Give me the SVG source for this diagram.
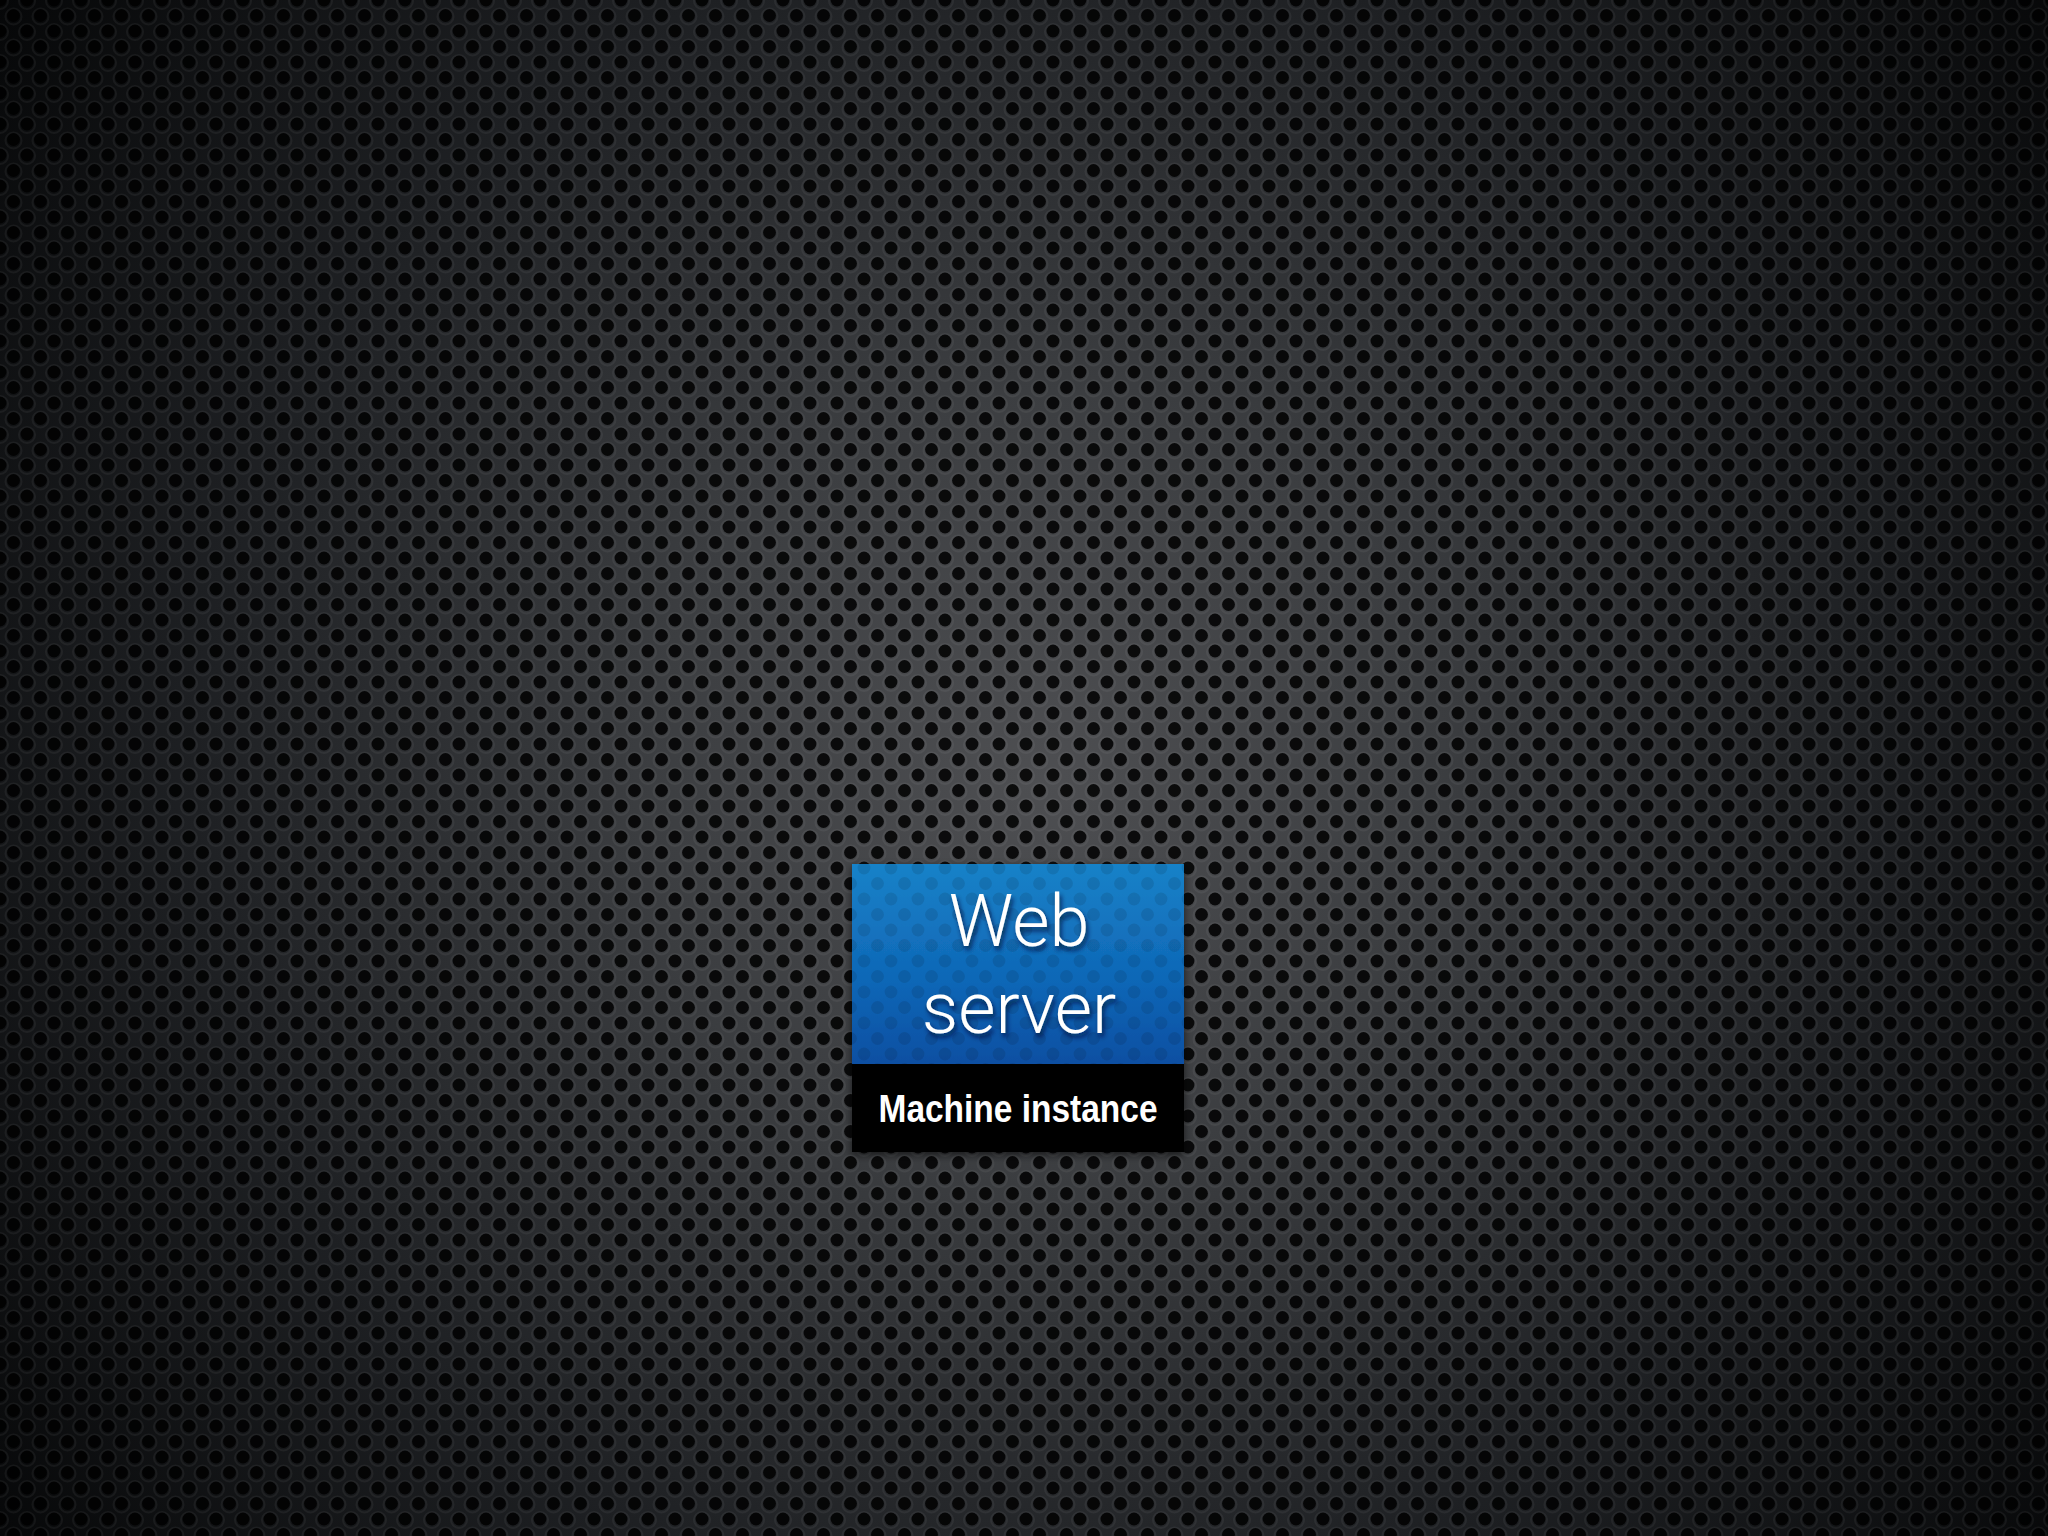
<svg xmlns="http://www.w3.org/2000/svg" width="2048" height="1536" viewBox="0 0 2048 1536">
  <defs>
    <radialGradient id="bgGrad" gradientUnits="userSpaceOnUse" cx="1040" cy="780" r="1300">
      <stop offset="0" stop-color="#4e4f52"/>
      <stop offset="0.3" stop-color="#3c3e41"/>
      <stop offset="0.65" stop-color="#1e2023"/>
      <stop offset="1" stop-color="#060708"/>
    </radialGradient>
    <filter id="soft" x="0" y="0" width="100%" height="100%">
      <feGaussianBlur stdDeviation="0.8"/>
    </filter>
    <pattern id="holes" patternUnits="userSpaceOnUse" x="0" y="0" width="27" height="31">
      <g fill="#000">
        <circle cx="0" cy="0" r="6.4"/>
        <circle cx="27" cy="0" r="6.4"/>
        <circle cx="0" cy="31" r="6.4"/>
        <circle cx="27" cy="31" r="6.4"/>
        <circle cx="13.5" cy="15.5" r="6.4"/>
      </g>
    </pattern>
    <pattern id="rims" patternUnits="userSpaceOnUse" x="0" y="0" width="27" height="31">
      <g fill="none" stroke="#ffffff" stroke-width="2">
        <circle cx="0" cy="1" r="8"/>
        <circle cx="27" cy="1" r="8"/>
        <circle cx="0" cy="32" r="8"/>
        <circle cx="27" cy="32" r="8"/>
        <circle cx="13.5" cy="16.5" r="8"/>
      </g>
    </pattern>
    <linearGradient id="blueGrad" x1="0" y1="0" x2="0" y2="1">
      <stop offset="0" stop-color="#1782c8"/>
      <stop offset="0.6" stop-color="#0f66b6"/>
      <stop offset="1" stop-color="#0a4fa2"/>
    </linearGradient>
    <filter id="textShadow" x="-20%" y="-20%" width="140%" height="150%">
      <feDropShadow dx="2" dy="4" stdDeviation="2.5" flood-color="#001030" flood-opacity="0.75"/>
    </filter>
    <filter id="boxShadow" x="-10%" y="-10%" width="120%" height="120%">
      <feDropShadow dx="0" dy="3" stdDeviation="4" flood-color="#000" flood-opacity="0.6"/>
    </filter>
    <style>
      .title { font-family: Roboto, "Liberation Sans", sans-serif; font-weight: 300; font-size: 72px; fill: #ffffff; text-anchor: middle; }
      .label { font-family: "Liberation Sans Narrow", "Liberation Sans", sans-serif; font-weight: bold; font-size: 39px; fill: #ffffff; text-anchor: middle; }
    </style>
  </defs>

  <g id="background">
    <rect x="0" y="0" width="2048" height="1536" fill="url(#bgGrad)"/>
    <rect x="0" y="0" width="2048" height="1536" fill="url(#rims)" opacity="0.05"/>
    <rect x="0" y="0" width="2048" height="1536" fill="url(#holes)" opacity="0.85"/>
  </g>

  <g id="connectors"></g>

  <g id="node-web-server">
    <g filter="url(#boxShadow)">
      <rect x="852" y="864" width="332" height="200" fill="url(#blueGrad)"/>
      <rect x="852" y="1064" width="332" height="88" fill="#000"/>
    </g>
    <rect x="852" y="864" width="332" height="200" fill="url(#holes)" opacity="0.1"/>
    <g filter="url(#textShadow)">
      <text class="title" x="1019" y="946">Web</text>
      <text class="title" x="1019" y="1033">server</text>
    </g>
    <text class="label" x="1018" y="1122" textLength="279" lengthAdjust="spacingAndGlyphs">Machine instance</text>
  </g>
</svg>
